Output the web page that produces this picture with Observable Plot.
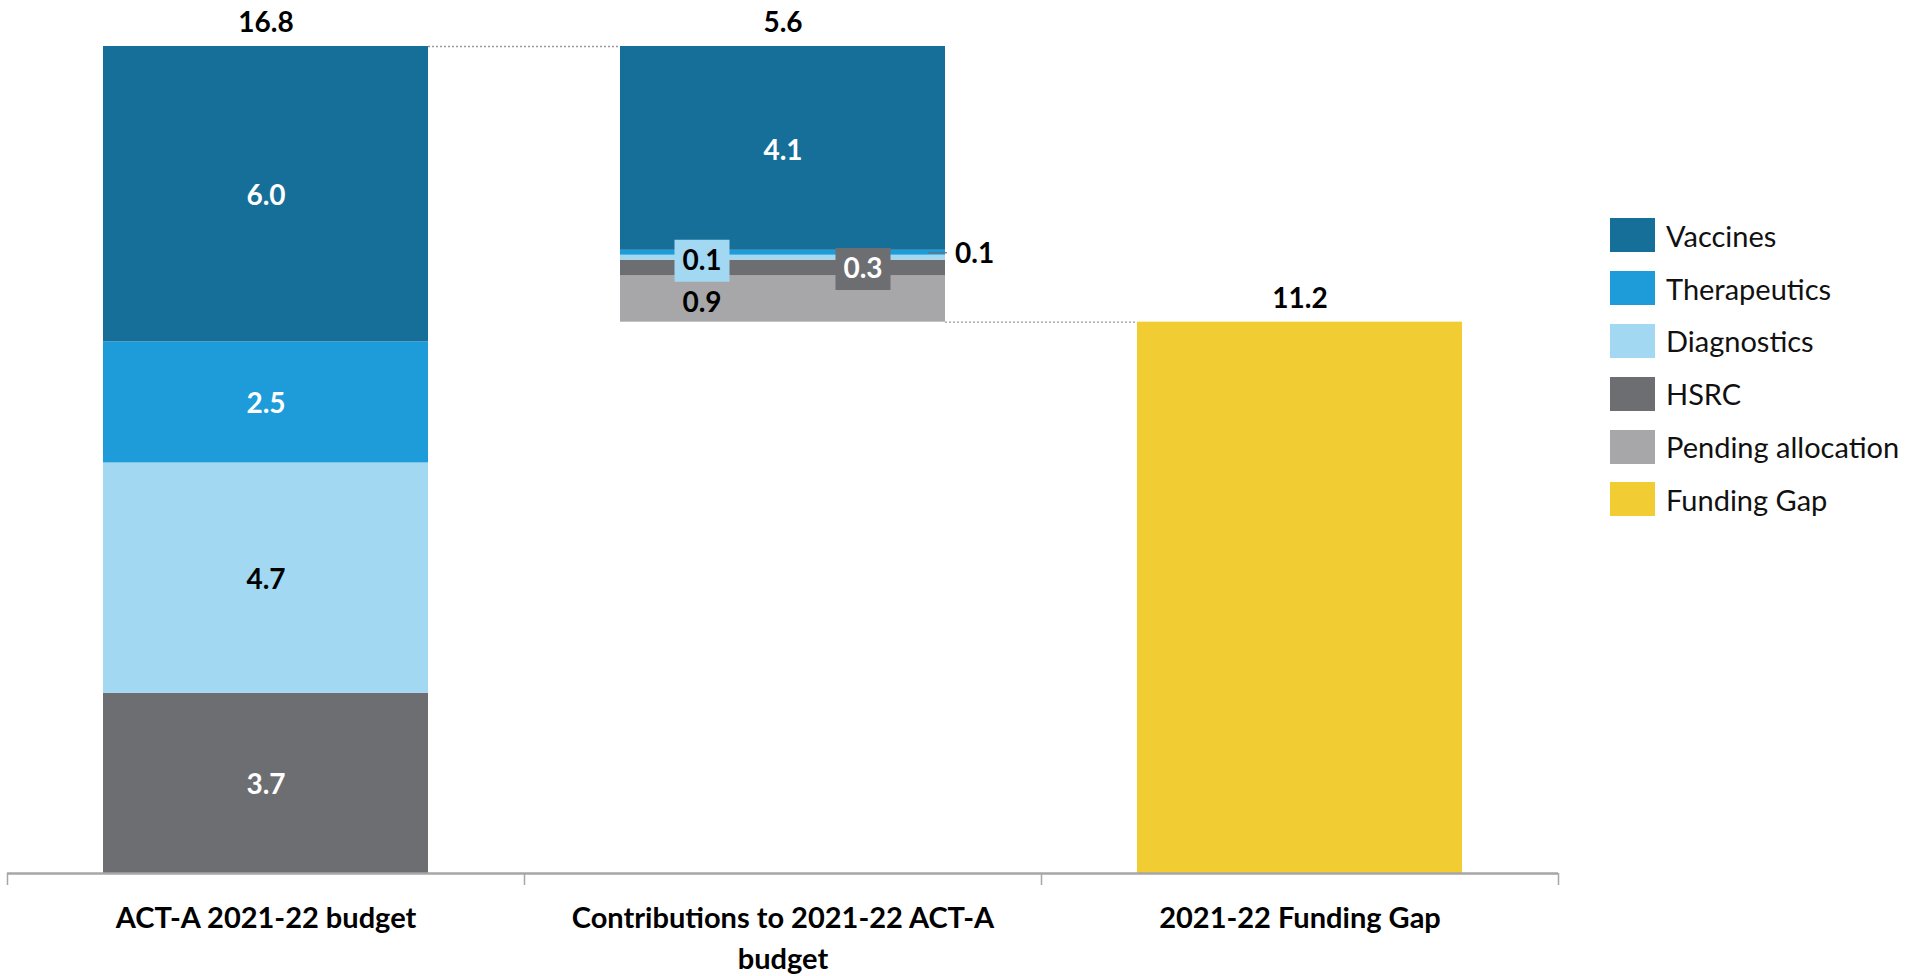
<!DOCTYPE html>
<html>
<head>
<meta charset="utf-8">
<script src="https://cdn.jsdelivr.net/npm/d3@7"></script>
<script src="https://cdn.jsdelivr.net/npm/@observablehq/plot@0.6"></script>
<style>
  html, body { margin: 0; padding: 0; background: #fff; overflow: hidden; }
  #wrap { position: relative; width: 1906px; height: 976px; font-family: Lato, "Noto Sans", sans-serif; }
  #legend { position: absolute; left: 1610px; top: 218px; }
  .item { display: flex; align-items: center; height: 52.8px; margin-top: 0; }
  .item:first-child { margin-top: -9px; }
  .sw { width: 45px; height: 34px; margin-right: 11px; flex: none; }
  .lab { font-size: 29px; color: #111; white-space: nowrap; }
</style>
</head>
<body>
<div id="wrap"><div id="chart"></div><div id="legend"></div></div>
<script>
// ---- data ----
const categories = ["ACT-A 2021-22 budget", "Contributions to 2021-22 ACT-A budget", "2021-22 Funding Gap"];
const tickLabels = ["ACT-A 2021-22 budget", "Contributions to 2021-22 ACT-A\nbudget", "2021-22 Funding Gap"];
const series = ["Vaccines", "Therapeutics", "Diagnostics", "HSRC", "Pending allocation", "Funding Gap"];
const colors = ["#166f98", "#1d9cd9", "#a3d8f2", "#6d6e72", "#a7a7a9", "#f1cc33"];
const budgetValues       = [6.0, 2.46, 4.68, 3.66, 0, 0];
const contributionValues = [4.14, 0.1, 0.1, 0.32, 0.94, 0];
const gapValues          = [0, 0, 0, 0, 0, 11.2];

const valuesByCategory = [budgetValues, contributionValues, gapValues];
const totals = valuesByCategory.map(v => d3.sum(v));
const bases = [0, totals[0] - totals[1], 0];   // waterfall: contributions hang from budget total

// build stacked segments (bottom-up: reverse legend order)
const segments = [];
valuesByCategory.forEach((vals, ci) => {
  let acc = bases[ci];
  for (let si = series.length - 1; si >= 0; si--) {
    const v = vals[si];
    if (!v) continue;
    segments.push({ci, series: series[si], value: v, y1: acc, y2: acc + v, showLabel: ci !== 2});
    acc += v;
  }
});

// ---- label styling (presentation only) ----
const darkText = new Set(["Diagnostics", "Pending allocation"]);
function labelStyle(s) {
  const st = {dx: 0, dy: 0, fill: darkText.has(s.series) ? "#000" : "#fff", anchor: "middle", box: null};
  if (s.ci === 1) {
    if (s.series === "Vaccines") { st.dy = 3; }
    if (s.series === "Diagnostics") { st.dx = -81; st.dy = 3; st.box = colors[2]; }
    if (s.series === "HSRC") { st.dx = 80; st.dy = 1; st.box = colors[3]; }
    if (s.series === "Pending allocation") { st.dx = -81; st.dy = 4; }
    if (s.series === "Therapeutics") { st.dx = 172; st.dy = 1; st.fill = "#000"; st.anchor = "start"; }
  } else {
    st.dy = 2;
  }
  return st;
}
const labels = segments.filter(s => s.showLabel).map(s => ({...s, ...labelStyle(s), mid: (s.y1 + s.y2) / 2}));
const boxSymbol = {draw(ctx) { ctx.rect(-27.5, -21, 55, 42); }};
const fmt = d3.format(".1f");
const colorOf = Object.fromEntries(series.map((s, i) => [s, colors[i]]));

// one mark per label so each can carry its own pixel offset
const labelMarks = labels.flatMap(d => {
  const m = [];
  if (d.box) m.push(Plot.dot([d], {x: d => d.ci + 0.5, y: "mid", dx: d.dx, dy: d.dy, symbol: boxSymbol, fill: d.box, stroke: null}));
  m.push(Plot.text([d], {x: d => d.ci + 0.5, y: "mid", dx: d.dx, dy: d.dy, text: d => fmt(d.value), fill: d.fill, fontSize: 28, fontWeight: "bold", textAnchor: d.anchor}));
  return m;
});

const chart = Plot.plot({
  width: 1906,
  height: 976,
  marginLeft: 7,
  marginRight: 348,
  marginTop: 46,
  marginBottom: 103,
  style: {fontFamily: "Lato, 'Noto Sans', sans-serif", background: "#fff", overflow: "visible"},
  x: {type: "linear", domain: [0, 3], axis: null},
  y: {domain: [0, totals[0]], axis: null},
  marks: [
    // bars
    Plot.rectY(segments, {x1: d => d.ci, x2: d => d.ci + 1, y1: "y1", y2: "y2", fill: d => colorOf[d.series], insetLeft: 96, insetRight: 96}),
    // dotted waterfall connectors
    Plot.ruleY([{y: totals[0], x1: 0.5, x2: 1.5}, {y: bases[1], x1: 1.5, x2: 2.5}],
      {y: "y", x1: "x1", x2: "x2", insetLeft: 162.5, insetRight: 162.5, stroke: "#9a9a9a", strokeWidth: 1.3, strokeDasharray: "2,2"}),
    // leader for the outside therapeutics label
    Plot.ruleY(labels.filter(d => d.anchor === "start"), {y: "mid", x1: d => d.ci, x2: d => d.ci + 1, insetLeft: 404, insetRight: 94, stroke: "#6d6e72", strokeWidth: 1.2}),
    ...labelMarks,
    // totals
    Plot.text(categories, {x: (d, i) => i + 0.5, y: (d, i) => bases[i] + totals[i], text: (d, i) => fmt(totals[i]), dy: -23, fontSize: 28, fontWeight: "bold", fill: "#000"}),
    // axis
    Plot.ruleY([0], {stroke: "#a6a6a6", strokeWidth: 2.5}),
    Plot.axisX({ticks: [0, 1, 2, 3], tickSize: 12, tickFormat: () => "", stroke: "#a6a6a6", strokeWidth: 1.5}),
    Plot.text(categories, {x: (d, i) => i + 0.5, y: 0, text: (d, i) => tickLabels[i], dy: 25, lineAnchor: "top", lineHeight: 1.42, fontSize: 29, fontWeight: "bold", fill: "#000"})
  ]
});
document.getElementById("chart").appendChild(chart);

// legend
const legend = d3.select("#legend");
series.forEach((s, i) => {
  const it = legend.append("div").attr("class", "item");
  it.append("div").attr("class", "sw").style("background", colors[i]);
  it.append("div").attr("class", "lab").text(s);
});
</script>
</body>
</html>
